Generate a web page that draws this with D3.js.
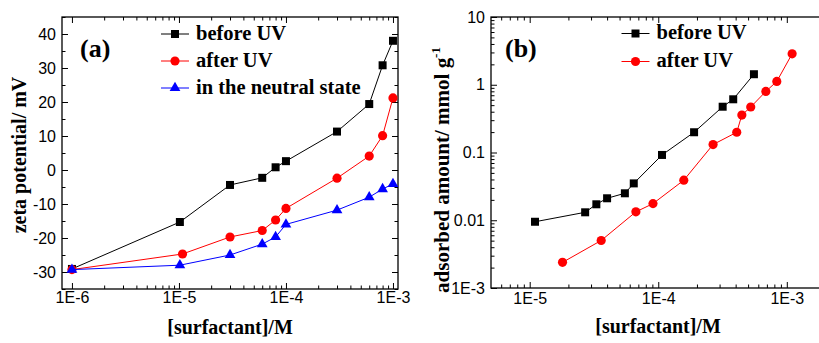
<!DOCTYPE html>
<html>
<head>
<meta charset="utf-8">
<script src="https://cdn.jsdelivr.net/npm/d3@7"></script>
<style>
  html, body { margin: 0; padding: 0; background: #fff; }
  svg { display: block; }
  .tick text { font-family: "Liberation Sans", Arial, sans-serif; font-size: 16px; fill: #000; }
  .ttl { font-family: "Liberation Serif", "Times New Roman", serif; font-weight: bold; fill: #000; }
</style>
</head>
<body>
<svg id="chart" width="819" height="343"></svg>
<script>
// ---- panel (a): zeta potential ----
const xBeforeA = [1e-6, 1.02e-5, 3e-5, 6e-5, 8e-5, 1e-4, 3e-4, 6e-4, 8e-4, 1e-3];
const yBeforeA = [-29.1, -15.3, -4.4, -2.3, 0.8, 2.6, 11.3, 19.4, 30.8, 38];
const xAfterA = [1e-6, 1.08e-5, 3e-5, 6e-5, 8e-5, 1e-4, 3e-4, 6e-4, 8e-4, 1e-3];
const yAfterA = [-29.3, -24.7, -19.7, -17.8, -14.7, -11.3, -2.4, 4.1, 10.1, 21.2];
const xNeutralA = [1e-6, 1.02e-5, 3e-5, 6e-5, 8e-5, 1e-4, 3e-4, 6e-4, 8e-4, 1e-3];
const yNeutralA = [-29.3, -28.0, -25.0, -21.8, -19.7, -16.0, -11.8, -8.0, -5.6, -4.1];
const xTicksA = [1e-6, 1e-5, 1e-4, 1e-3];
const xTickLabelsA = ["1E-6", "1E-5", "1E-4", "1E-3"];
const yTicksA = [-30, -20, -10, 0, 10, 20, 30, 40];
const legendA = ["before UV", "after UV", "in the neutral state"];

// ---- panel (b): adsorbed amount ----
const xBeforeB = [1.1e-5, 2.7e-5, 3.3e-5, 4.0e-5, 5.5e-5, 6.45e-5, 1.07e-4, 1.9e-4, 3.17e-4, 3.83e-4, 5.55e-4];
const yBeforeB = [0.0095, 0.0131, 0.0172, 0.0211, 0.025, 0.035, 0.092, 0.199, 0.474, 0.61, 1.43];
const xAfterB = [1.8e-5, 3.6e-5, 6.7e-5, 9.1e-5, 1.58e-4, 2.67e-4, 4.08e-4, 4.47e-4, 5.24e-4, 6.87e-4, 8.36e-4, 1.1e-3];
const yAfterB = [0.00239, 0.00503, 0.0133, 0.0176, 0.039, 0.131, 0.199, 0.357, 0.469, 0.797, 1.12, 2.86];
const xTicksB = [1e-5, 1e-4, 1e-3];
const xTickLabelsB = ["1E-5", "1E-4", "1E-3"];
const yTicksB = [1e-3, 0.01, 0.1, 1, 10];
const yTickLabelsB = ["1E-3", "0.01", "0.1", "1", "10"];
const legendB = ["before UV", "after UV"];

const svg = d3.select("#chart");
const zip = (xs, ys) => xs.map((x, i) => [x, ys[i]]);

function logMinors(lo, hi) {
  const out = [];
  for (let e = Math.floor(Math.log10(lo)); e <= Math.ceil(Math.log10(hi)); e++) {
    for (let m = 2; m <= 9; m++) {
      const v = m * Math.pow(10, e);
      if (v > lo && v < hi) out.push(v);
    }
  }
  return out;
}

const symbols = {
  square: d3.symbol().type(d3.symbolSquare).size(64),
  circle: d3.symbol().type(d3.symbolCircle).size(66),
  triangle: d3.symbol().type(d3.symbolTriangle).size(50),
};

function drawAxis(g, axis, transform) {
  const a = g.append("g").attr("transform", transform).call(axis);
  a.select(".domain").remove();
  a.selectAll(".tick line").attr("stroke", "#000").attr("stroke-width", 1);
  return a;
}

function panel(cfg) {
  const { x, y } = cfg;
  const [x0, x1] = x.range();
  const [y0, y1] = y.range();
  const g = svg.append("g");

  // ticks, inward on all sides
  drawAxis(g, d3.axisBottom(x).tickValues(cfg.xTicks).tickFormat((d, i) => cfg.xLabels[i])
    .tickSizeInner(-6).tickSizeOuter(0).tickPadding(cfg.xPad), `translate(0,${y0})`);
  drawAxis(g, d3.axisBottom(x).tickValues(cfg.xMinor).tickFormat("").tickSizeInner(-3.5).tickSizeOuter(0), `translate(0,${y0})`);
  drawAxis(g, d3.axisTop(x).tickValues(cfg.xTicks).tickFormat("").tickSizeInner(-6).tickSizeOuter(0), `translate(0,${y1})`);
  drawAxis(g, d3.axisTop(x).tickValues(cfg.xMinor).tickFormat("").tickSizeInner(-3.5).tickSizeOuter(0), `translate(0,${y1})`);
  drawAxis(g, d3.axisLeft(y).tickValues(cfg.yTicks).tickFormat((d, i) => cfg.yLabels ? cfg.yLabels[i] : d)
    .tickSizeInner(-6).tickSizeOuter(0).tickPadding(cfg.yPad), `translate(${x0},0)`);
  drawAxis(g, d3.axisLeft(y).tickValues(cfg.yMinor).tickFormat("").tickSizeInner(-3.5).tickSizeOuter(0), `translate(${x0},0)`);
  drawAxis(g, d3.axisRight(y).tickValues(cfg.yTicks).tickFormat("").tickSizeInner(-6).tickSizeOuter(0), `translate(${x1},0)`);
  drawAxis(g, d3.axisRight(y).tickValues(cfg.yMinor).tickFormat("").tickSizeInner(-3.5).tickSizeOuter(0), `translate(${x1},0)`);

  g.append("rect")
    .attr("x", x0).attr("y", y1).attr("width", x1 - x0).attr("height", y0 - y1)
    .attr("fill", "none").attr("stroke", "#000").attr("stroke-width", 1.3);

  const line = d3.line().x(d => x(d[0])).y(d => y(d[1]));
  cfg.series.forEach(s => {
    const pts = zip(s.xs, s.ys);
    g.append("path").datum(pts).attr("d", line)
      .attr("fill", "none").attr("stroke", s.color).attr("stroke-width", 1);
    g.selectAll(null).data(pts).join("path")
      .attr("d", symbols[s.symbol])
      .attr("transform", d => `translate(${x(d[0])},${y(d[1])})`)
      .attr("fill", s.color);
  });

  // legend
  const L = cfg.legend;
  cfg.series.forEach((s, i) => {
    const cy = L.y + i * L.dy;
    g.append("line").attr("x1", L.x).attr("x2", L.x + 28).attr("y1", cy).attr("y2", cy)
      .attr("stroke", s.color).attr("stroke-width", 1);
    g.append("path").attr("d", symbols[s.symbol]).attr("transform", `translate(${L.x + 14},${cy})`)
      .attr("fill", s.color);
    g.append("text").attr("class", "ttl").attr("x", L.x + 35).attr("y", cy + 5.5)
      .style("font-size", "20.5px").text(s.name);
  });

  g.append("text").attr("class", "ttl").attr("x", cfg.tag.x).attr("y", cfg.tag.y)
    .style("font-size", "26px").text(cfg.tag.text);

  g.append("text").attr("class", "ttl").attr("x", cfg.xTitle.x).attr("y", cfg.xTitle.y)
    .attr("text-anchor", "middle").style("font-size", "20px").text("[surfactant]/M");

  return g;
}

// panel (a)
const xA = d3.scaleLog().domain([Math.pow(10, -6.093), Math.pow(10, -2.953)]).range([62, 398]);
const yA = d3.scaleLinear().domain([-35, 45]).range([289, 17]);
const gA = panel({
  x: xA, y: yA,
  xTicks: xTicksA, xLabels: xTickLabelsA, xMinor: logMinors(1.5e-6, 1e-3), xPad: 3,
  yTicks: yTicksA, yMinor: d3.range(-35, 46, 10), yPad: 6,
  series: [
    { name: legendA[0], xs: xBeforeA, ys: yBeforeA, color: "#000000", symbol: "square" },
    { name: legendA[1], xs: xAfterA, ys: yAfterA, color: "#ff0000", symbol: "circle" },
    { name: legendA[2], xs: xNeutralA, ys: yNeutralA, color: "#0000ff", symbol: "triangle" },
  ],
  legend: { x: 161, y: 34, dy: 27 },
  tag: { x: 80, y: 57, text: "(a)" },
  xTitle: { x: 230, y: 334 },
});
gA.append("text").attr("class", "ttl")
  .attr("transform", "translate(26,155) rotate(-90)").attr("text-anchor", "middle")
  .style("font-size", "20px").text("zeta potential/ mV");

// panel (b)
const xB = d3.scaleLog().domain([5e-6, 2e-3]).range([491, 825.5]);
const yB = d3.scaleLog().domain([1e-3, 10]).range([288, 17]);
const gB = panel({
  x: xB, y: yB,
  xTicks: xTicksB, xLabels: xTickLabelsB, xMinor: logMinors(5e-6, 2e-3), xPad: 5,
  yTicks: yTicksB, yLabels: yTickLabelsB, yMinor: logMinors(1e-3, 10), yPad: 6,
  series: [
    { name: legendB[0], xs: xBeforeB, ys: yBeforeB, color: "#000000", symbol: "square" },
    { name: legendB[1], xs: xAfterB, ys: yAfterB, color: "#ff0000", symbol: "circle" },
  ],
  legend: { x: 621.5, y: 33.5, dy: 28 },
  tag: { x: 505, y: 57, text: "(b)" },
  xTitle: { x: 658, y: 333 },
});
const yt = gB.append("text").attr("class", "ttl")
  .attr("transform", "translate(449,170) rotate(-90)").attr("text-anchor", "middle")
  .style("font-size", "21px");
yt.append("tspan").text("adsorbed amount/ mmol g");
yt.append("tspan").attr("dy", -9).style("font-size", "13px").text("-1");
</script>
</body>
</html>
